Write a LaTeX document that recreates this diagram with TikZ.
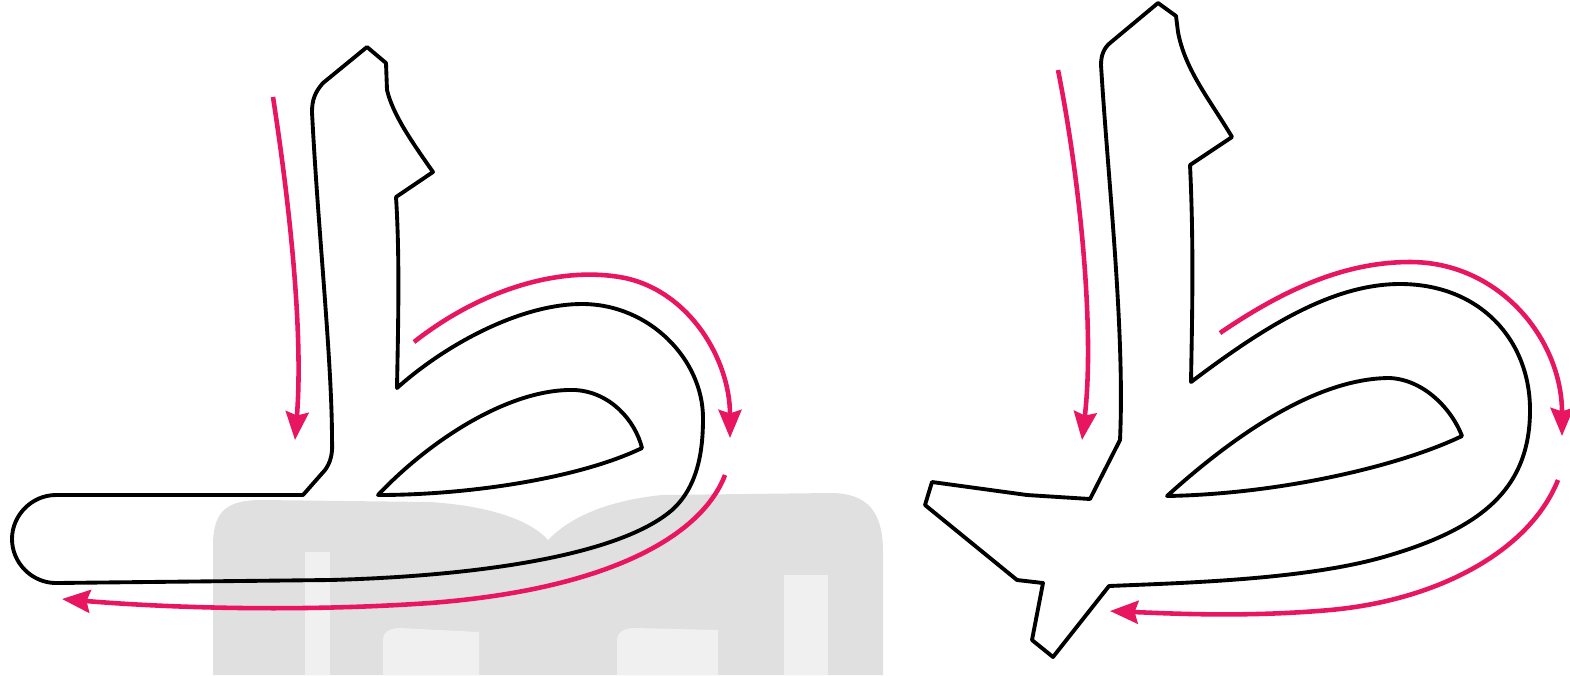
\documentclass[tikz,border=0pt]{standalone}
\usetikzlibrary{arrows.meta}
\definecolor{rosa}{RGB}{232,22,96}
\begin{document}
\begin{tikzpicture}[x=0.01cm, y=-0.01cm,
        contorno/.style={line width=1.1pt, black, line join=round},
        freccia/.style={line width=1.3pt, rosa, -{Stealth[length=8pt,width=6.5pt,inset=1pt]}},
        filigrana/.style={fill=black!12},
        filigranachiara/.style={fill=black!6}]
        \useasboundingbox (0,0) rectangle (1570,675);

        % Filigrana sullo sfondo (libro)
        \fill[filigrana] (213,675) -- (213,545) .. controls (213,510) and (228,500) .. (262,500) -- (430,502) .. controls (490,506) and (530,520) .. (548,540) .. controls (572,515) and (612,500) .. (662,495) -- (830,493) .. controls (868,493) and (883,512) .. (883,552) -- (883,675) -- cycle;
        \fill[filigranachiara] (305,552) rectangle (330,675);
        \fill[filigranachiara] (383,675) -- (383,640) .. controls (383,632) and (390,628) .. (400,628) -- (479,632) -- (479,675) -- cycle;
        \fill[filigranachiara] (617,675) -- (617,640) .. controls (617,632) and (625,628) .. (635,628) -- (718,630) -- (718,675) -- cycle;
        \fill[filigranachiara] (784,575) rectangle (828,675);

        % Lettera sinistra - contorno esterno
        \draw[contorno] (303,495) -- (56,495) .. controls (32,495) and (12,515) .. (12,539) .. controls (12,563) and (32,583) .. (56,583)
            -- (330,580) .. controls (480,576) and (620,555) .. (672,510) .. controls (700,485) and (703,445) .. (703,418)
            .. controls (703,360) and (650,304) .. (582,304) .. controls (520,304) and (445,345) .. (397,388)
            .. controls (398,330) and (400,260) .. (396,197) -- (433,172) .. controls (412,142) and (393,115) .. (387,90) -- (386,63) -- (367,47) -- (323,83) .. controls (315,92) and (312,100) .. (312,112)
            .. controls (318,230) and (332,360) .. (332,440) .. controls (333,455) and (330,463) .. (325,470) -- cycle;
        % Lettera sinistra - occhiello
        \draw[contorno] (378,495) .. controls (430,440) and (510,388) .. (575,390) .. controls (610,392) and (635,420) .. (642,448)
            .. controls (580,478) and (470,495) .. (378,495) -- cycle;

        % Frecce lettera sinistra
        \draw[freccia] (273,97) .. controls (292,220) and (303,340) .. (295,440);
        \draw[freccia] (414,342) .. controls (480,290) and (560,265) .. (625,278) .. controls (690,292) and (730,360) .. (730,438);
        \draw[freccia] (725,475) .. controls (700,540) and (600,590) .. (430,603) .. controls (300,612) and (170,608) .. (62,599);

        % Lettera destra - contorno esterno
        \draw[contorno] (1158,3) -- (1176,16) -- (1178,32) .. controls (1185,70) and (1210,100) .. (1232,137)
            -- (1190,165) .. controls (1194,250) and (1192,320) .. (1191,382)
            .. controls (1260,330) and (1330,284) .. (1400,284) .. controls (1480,284) and (1530,340) .. (1530,410)
            .. controls (1530,490) and (1480,530) .. (1380,558) .. controls (1300,580) and (1180,583) .. (1109,586)
            -- (1053,657) -- (1032,640) -- (1043,583) -- (1017,580) -- (925,505) -- (932,482) -- (1027,495) -- (1090,499) -- (1120,440)
            .. controls (1125,330) and (1108,180) .. (1101,65) .. controls (1101,55) and (1104,48) .. (1110,43) -- cycle;
        % Lettera destra - occhiello
        \draw[contorno] (1167,496) .. controls (1240,430) and (1320,378) .. (1390,378) .. controls (1425,380) and (1452,410) .. (1462,436)
            .. controls (1400,466) and (1280,494) .. (1167,496) -- cycle;

        % Frecce lettera destra
        \draw[freccia] (1058,70) .. controls (1080,180) and (1095,330) .. (1082,440);
        \draw[freccia] (1220,333) .. controls (1290,285) and (1350,262) .. (1410,262) .. controls (1500,262) and (1562,340) .. (1562,436);
        \draw[freccia] (1558,480) .. controls (1530,550) and (1440,600) .. (1330,610) .. controls (1250,617) and (1180,614) .. (1110,611);
    \end{tikzpicture}
\end{document}
